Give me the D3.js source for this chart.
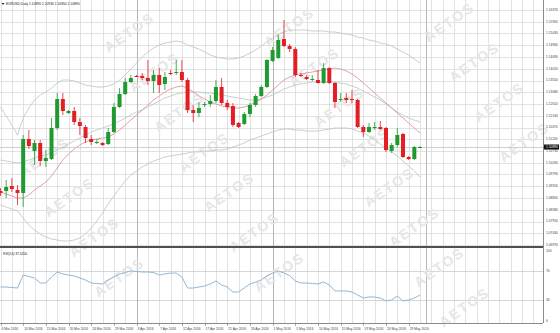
<!DOCTYPE html>
<html>
<head>
<meta charset="utf-8">
<script src="https://cdn.jsdelivr.net/npm/d3@7"></script>
<style>
  body { margin: 0; background: #fff; }
  svg { display: block; font-family: 'Liberation Sans', Arial, sans-serif; }
</style>
</head>
<body>
<div id="chart"></div>
<script>
// EURUSD daily bars, 6 Mar 2016 - 31 May 2016 (Sunday bars included)
const dateLabels = ['6 Mar 2016', '10 Mar 2016', '15 Mar 2016', '20 Mar 2016', '24 Mar 2016', '29 Mar 2016',
  '3 Apr 2016', '7 Apr 2016', '12 Apr 2016', '17 Apr 2016', '21 Apr 2016', '26 Apr 2016', '1 May 2016',
  '5 May 2016', '10 May 2016', '15 May 2016', '19 May 2016', '24 May 2016', '29 May 2016'];

const openP = [1.0913, 1.0913, 1.0933, 1.0917, 1.0905, 1.1121, 1.1073, 1.1105, 1.1033, 1.1041,
  1.1165, 1.1281, 1.1225, 1.1233, 1.1189, 1.1169, 1.1121, 1.1107, 1.1105, 1.1101,
  1.1149, 1.1249, 1.1301, 1.1349, 1.1373, 1.1373, 1.1365, 1.1353, 1.1377, 1.1341,
  1.1385, 1.1385, 1.1389, 1.1357, 1.1237, 1.1225, 1.1259, 1.1261, 1.1273, 1.1329,
  1.1265, 1.1253, 1.1185, 1.1181, 1.1221, 1.1257, 1.1293, 1.1329, 1.1433, 1.1445,
  1.1521, 1.1493, 1.1481, 1.1377, 1.1369, 1.1359, 1.1357, 1.1345, 1.1405, 1.1345,
  1.1277, 1.1285, 1.1281, 1.1277, 1.1169, 1.1149, 1.1165, 1.1169, 1.1165, 1.1073,
  1.1097, 1.1141, 1.1049, 1.1041, 1.1089];
const highP = [1.0925, 1.0957, 1.0965, 1.0937, 1.1137, 1.1157, 1.1117, 1.1117, 1.1077, 1.1205,
  1.1305, 1.1305, 1.1237, 1.1249, 1.1205, 1.1177, 1.1137, 1.1121, 1.1109, 1.1165,
  1.1265, 1.1325, 1.1365, 1.1377, 1.1377, 1.1385, 1.1437, 1.1397, 1.1405, 1.1389,
  1.1397, 1.1437, 1.1437, 1.1365, 1.1257, 1.1269, 1.1269, 1.1297, 1.1357, 1.1365,
  1.1277, 1.1265, 1.1189, 1.1229, 1.1265, 1.1301, 1.1337, 1.1441, 1.1489, 1.1537,
  1.1597, 1.1501, 1.1489, 1.1385, 1.1377, 1.1377, 1.1397, 1.1425, 1.1409, 1.1349,
  1.1305, 1.1305, 1.1317, 1.1281, 1.1177, 1.1185, 1.1189, 1.1193, 1.1169, 1.1105,
  1.1165, 1.1145, 1.1053, 1.1093, 1.1093];
const lowP = [1.0893, 1.0885, 1.0909, 1.0857, 1.0849, 1.1081, 1.1017, 1.1013, 1.1009, 1.1037,
  1.1157, 1.1217, 1.1221, 1.1177, 1.1137, 1.1105, 1.1097, 1.1101, 1.1093, 1.1097,
  1.1145, 1.1245, 1.1297, 1.1345, 1.1369, 1.1357, 1.1337, 1.1305, 1.1305, 1.1317,
  1.1377, 1.1377, 1.1349, 1.1225, 1.1189, 1.1209, 1.1249, 1.1249, 1.1265, 1.1257,
  1.1237, 1.1169, 1.1165, 1.1177, 1.1209, 1.1249, 1.1289, 1.1325, 1.1429, 1.1441,
  1.1489, 1.1469, 1.1369, 1.1369, 1.1357, 1.1353, 1.1343, 1.1341, 1.1341, 1.1245,
  1.1269, 1.1265, 1.1265, 1.1165, 1.1129, 1.1145, 1.1157, 1.1157, 1.1069, 1.1065,
  1.1089, 1.1045, 1.1037, 1.1037, 1.1085];
const closeP = [1.0905, 1.0929, 1.0921, 1.0905, 1.1121, 1.1093, 1.1105, 1.1033, 1.1045, 1.1165,
  1.1281, 1.1233, 1.1233, 1.1189, 1.1173, 1.1125, 1.1109, 1.1109, 1.1097, 1.1149,
  1.1249, 1.1301, 1.1349, 1.1365, 1.1371, 1.1365, 1.1353, 1.1377, 1.1337, 1.1369,
  1.1383, 1.1389, 1.1357, 1.1237, 1.1225, 1.1245, 1.1261, 1.1273, 1.1329, 1.1265,
  1.1249, 1.1177, 1.1169, 1.1221, 1.1257, 1.1293, 1.1329, 1.1437, 1.1477, 1.1517,
  1.1493, 1.1481, 1.1377, 1.1375, 1.1361, 1.1361, 1.1345, 1.1405, 1.1345, 1.1269,
  1.1281, 1.1277, 1.1277, 1.1169, 1.1149, 1.1169, 1.1169, 1.1161, 1.1077, 1.1097,
  1.1137, 1.1049, 1.1041, 1.1089, 1.1089];

// indicator lines
const bbUpper = [1.1249, 1.1213, 1.1177, 1.1137, 1.1205, 1.1245, 1.1277, 1.1297, 1.1309, 1.1325,
  1.1345, 1.1357, 1.1357, 1.1353, 1.1345, 1.1337, 1.1333, 1.1329, 1.1329, 1.1333,
  1.1341, 1.1357, 1.1377, 1.1401, 1.1425, 1.1449, 1.1469, 1.1485, 1.1497, 1.1505,
  1.1509, 1.1513, 1.1509, 1.1497, 1.1489, 1.1481, 1.1469, 1.1457, 1.1449, 1.1445,
  1.1441, 1.1441, 1.1445, 1.1453, 1.1465, 1.1477, 1.1493, 1.1509, 1.1525, 1.1537,
  1.1549, 1.1557, 1.1557, 1.1557, 1.1557, 1.1553, 1.1553, 1.1553, 1.1549, 1.1549,
  1.1545, 1.1541, 1.1537, 1.1529, 1.1525, 1.1517, 1.1513, 1.1505, 1.1501, 1.1493,
  1.1481, 1.1469, 1.1457, 1.1441, 1.1425];
const bbMiddle = [1.1037, 1.1033, 1.1029, 1.1025, 1.1029, 1.1037, 1.1045, 1.1053, 1.1057, 1.1065,
  1.1077, 1.1089, 1.1101, 1.1113, 1.1125, 1.1137, 1.1149, 1.1157, 1.1165, 1.1173,
  1.1181, 1.1193, 1.1205, 1.1217, 1.1229, 1.1237, 1.1249, 1.1261, 1.1273, 1.1285,
  1.1293, 1.1301, 1.1305, 1.1309, 1.1309, 1.1309, 1.1305, 1.1305, 1.1301, 1.1297,
  1.1293, 1.1289, 1.1285, 1.1281, 1.1277, 1.1277, 1.1281, 1.1289, 1.1297, 1.1309,
  1.1321, 1.1329, 1.1337, 1.1341, 1.1345, 1.1349, 1.1349, 1.1349, 1.1349, 1.1349,
  1.1345, 1.1341, 1.1333, 1.1325, 1.1313, 1.1301, 1.1289, 1.1277, 1.1261, 1.1245,
  1.1229, 1.1217, 1.1205, 1.1197, 1.1189];
const bbLower = [1.0857, 1.0849, 1.0841, 1.0833, 1.0805, 1.0777, 1.0757, 1.0741, 1.0729, 1.0721,
  1.0717, 1.0713, 1.0713, 1.0717, 1.0725, 1.0741, 1.0765, 1.0793, 1.0825, 1.0861,
  1.0893, 1.0925, 1.0953, 1.0977, 1.0993, 1.1009, 1.1021, 1.1033, 1.1041, 1.1049,
  1.1053, 1.1057, 1.1061, 1.1065, 1.1069, 1.1069, 1.1073, 1.1073, 1.1077, 1.1077,
  1.1081, 1.1089, 1.1097, 1.1105, 1.1117, 1.1125, 1.1133, 1.1141, 1.1149, 1.1157,
  1.1161, 1.1161, 1.1157, 1.1157, 1.1153, 1.1153, 1.1153, 1.1157, 1.1161, 1.1165,
  1.1165, 1.1165, 1.1161, 1.1153, 1.1145, 1.1133, 1.1117, 1.1101, 1.1085, 1.1069,
  1.1053, 1.1033, 1.1013, 1.0993, 1.0969];
const maLine = [1.0909, 1.0901, 1.0893, 1.0885, 1.0885, 1.0897, 1.0917, 1.0933, 1.0949, 1.0973,
  1.1005, 1.1037, 1.1061, 1.1081, 1.1097, 1.1109, 1.1117, 1.1121, 1.1125, 1.1129,
  1.1141, 1.1157, 1.1177, 1.1197, 1.1217, 1.1237, 1.1257, 1.1277, 1.1293, 1.1309,
  1.1321, 1.1329, 1.1333, 1.1325, 1.1309, 1.1293, 1.1281, 1.1269, 1.1261, 1.1253,
  1.1249, 1.1245, 1.1245, 1.1249, 1.1257, 1.1269, 1.1281, 1.1297, 1.1317, 1.1337,
  1.1357, 1.1369, 1.1377, 1.1381, 1.1385, 1.1389, 1.1393, 1.1397, 1.1401, 1.1405,
  1.1401, 1.1393, 1.1381, 1.1365, 1.1345, 1.1325, 1.1305, 1.1285, 1.1265, 1.1245,
  1.1225, 1.1205, 1.1185, 1.1165, 1.1145];

const rsiValues = [48.3, 48.3, 47.6, 46.9, 64.6, 62.6, 60.5, 53.7, 53.7, 61.9,
  68.7, 66.0, 64.6, 63.3, 60.5, 57.8, 53.7, 53.1, 52.4, 57.8,
  61.9, 66.0, 68.0, 70.1, 69.4, 68.7, 68.7, 68.0, 64.6, 66.0,
  67.3, 67.3, 61.9, 46.9, 46.9, 48.3, 49.7, 52.4, 56.5, 51.0,
  48.3, 41.5, 41.5, 46.9, 52.4, 55.1, 57.8, 63.3, 67.3, 70.1,
  67.3, 63.9, 56.5, 53.7, 53.7, 53.1, 52.4, 55.1, 51.0, 42.9,
  42.9, 42.9, 41.5, 37.4, 33.3, 34.7, 34.7, 33.3, 29.3, 30.6,
  36.1, 29.3, 30.6, 33.3, 37.42];

const priceTicks = [1.16370, 1.15900, 1.15430, 1.14960, 1.14490, 1.14020, 1.13550, 1.13080, 1.12610,
  1.12140, 1.11670, 1.11200, 1.10730, 1.10260, 1.09790, 1.09320, 1.08850, 1.08380, 1.07910,
  1.07440, 1.06970];
const rsiTicks = [100, 70, 30, 0];
const rsiLevels = [70, 30];
const monthStarts = [24, 48, 75]; // first bars of Apr, May, Jun

const W = 560, H = 333;
const axisX = 543;
const mainTop = 0, mainBottom = 246;
const rsiTop = 248, rsiBottom = 323;

const svg = d3.select('#chart')
  .append('svg')
  .attr('width', W)
  .attr('height', H);

svg.append('rect').attr('width', W).attr('height', H).attr('fill', '#fff');

const x = d3.scaleLinear().domain([0, openP.length - 1]).range([0.5, 420]);
const y = d3.scaleLinear()
  .domain([d3.min(priceTicks), d3.max(priceTicks)])
  .range([245, 10]);
const yRsi = d3.scaleLinear().domain([0, 100]).range([322.5, 249]);

const fmt5 = d3.format('.5f');

// grid: vertical every 2 bars, horizontal on each price label
const gridG = svg.append('g').attr('stroke', '#dadada').attr('stroke-width', 0.8);
const vBars = d3.range(0, 200, 2).filter(i => x(i) < axisX);
gridG.selectAll('line.v')
  .data(vBars)
  .join('line')
  .attr('x1', i => Math.round(x(i)) + 0.5)
  .attr('x2', i => Math.round(x(i)) + 0.5)
  .attr('y1', mainTop)
  .attr('y2', rsiBottom);
gridG.selectAll('line.h')
  .data(priceTicks)
  .join('line')
  .attr('x1', 0)
  .attr('x2', axisX)
  .attr('y1', d => Math.round(y(d)) + 0.5)
  .attr('y2', d => Math.round(y(d)) + 0.5);
gridG.selectAll('line.r')
  .data(rsiLevels)
  .join('line')
  .attr('x1', 0)
  .attr('x2', axisX)
  .attr('y1', d => Math.round(yRsi(d)) + 0.5)
  .attr('y2', d => Math.round(yRsi(d)) + 0.5)
  .attr('stroke', '#cccccc');

// month separators
svg.append('g')
  .selectAll('line')
  .data(monthStarts)
  .join('line')
  .attr('x1', i => Math.round(x(i)) + 0.5)
  .attr('x2', i => Math.round(x(i)) + 0.5)
  .attr('y1', mainTop)
  .attr('y2', rsiBottom)
  .attr('stroke', '#b0b0b0')
  .attr('stroke-width', 0.9);

// watermark lattice (only whole words kept)
const wmG = svg.append('g');
const wmPos = [];
for (let a = -10; a <= 10; a++) {
  for (let b = -3; b <= 5; b++) {
    const cx = 20 + a * 25 + b * 160;
    const cy = 118 + a * 40 - b * 5;
    if (cx > 26 && cx < W - 26 && cy > 20 && cy < H - 20) wmPos.push([cx, cy]);
  }
}
wmG.selectAll('text')
  .data(wmPos)
  .join('text')
  .attr('transform', d => `translate(${d[0]},${d[1]}) rotate(-35)`)
  .attr('text-anchor', 'middle')
  .attr('dominant-baseline', 'middle')
  .style('font-size', '14px')
  .style('font-weight', 'bold')
  .style('letter-spacing', '2px')
  .style('fill', '#e6e6e6')
  .text('AETOS');

// indicator lines
const line = d3.line().x((d, i) => x(i)).y(d => y(d));
[[bbUpper, '#b5c8bd'], [bbMiddle, '#b5c8bd'], [bbLower, '#b5c8bd'], [maLine, '#d98c90']].forEach(([arr, col]) => {
  svg.append('path')
    .datum(arr)
    .attr('d', line)
    .attr('fill', 'none')
    .attr('stroke', col)
    .attr('stroke-width', 0.8);
});

// bid line
const lastClose = closeP[closeP.length - 1];
svg.append('line')
  .attr('x1', 0).attr('x2', axisX)
  .attr('y1', Math.round(y(lastClose)) + 0.5)
  .attr('y2', Math.round(y(lastClose)) + 0.5)
  .attr('stroke', '#c4c4c4')
  .attr('stroke-width', 0.8);

// candles
const bars = d3.range(openP.length);
const upCol = '#1f9a30', dnCol = '#e31e24';
const candleG = svg.append('g');
candleG.selectAll('line')
  .data(bars)
  .join('line')
  .attr('x1', i => x(i))
  .attr('x2', i => x(i))
  .attr('y1', i => y(highP[i]))
  .attr('y2', i => y(lowP[i]))
  .attr('stroke', i => closeP[i] >= openP[i] ? upCol : dnCol)
  .attr('stroke-width', 0.8);
candleG.selectAll('rect')
  .data(bars)
  .join('rect')
  .attr('x', i => x(i) - 2)
  .attr('width', 4)
  .attr('y', i => y(Math.max(openP[i], closeP[i])))
  .attr('height', i => Math.max(1, Math.abs(y(openP[i]) - y(closeP[i]))))
  .attr('fill', i => closeP[i] >= openP[i] ? upCol : dnCol);

// RSI line
svg.append('path')
  .datum(rsiValues)
  .attr('d', d3.line().x((d, i) => x(i)).y(d => yRsi(d)))
  .attr('fill', 'none')
  .attr('stroke', '#94b6cf')
  .attr('stroke-width', 1);

// frame lines
svg.append('line').attr('x1', axisX + 0.5).attr('x2', axisX + 0.5).attr('y1', 0).attr('y2', rsiBottom)
  .attr('stroke', '#8a8a8a').attr('stroke-width', 1);
svg.append('rect').attr('x', 0).attr('y', mainBottom).attr('width', axisX).attr('height', 2).attr('fill', '#505050');
svg.append('line').attr('x1', 0).attr('x2', axisX).attr('y1', rsiBottom + 0.5).attr('y2', rsiBottom + 0.5)
  .attr('stroke', '#8a8a8a');

// price axis labels
const tickFont = '3.3px';
svg.append('g')
  .selectAll('text')
  .data(priceTicks)
  .join('text')
  .attr('x', axisX + 3)
  .attr('y', d => y(d))
  .attr('dominant-baseline', 'middle')
  .style('font-size', tickFont)
  .style('fill', '#444')
  .text(d => fmt5(d));

// current price box
svg.append('rect')
  .attr('x', axisX + 1).attr('y', y(lastClose) - 2.5)
  .attr('width', 15).attr('height', 5)
  .attr('fill', '#111');
svg.append('text')
  .attr('x', axisX + 3).attr('y', y(lastClose))
  .attr('dominant-baseline', 'middle')
  .style('font-size', tickFont)
  .style('fill', '#fff')
  .text(fmt5(lastClose));

// RSI axis labels
svg.append('g')
  .selectAll('text')
  .data(rsiTicks)
  .join('text')
  .attr('x', axisX + 3)
  .attr('y', d => Math.min(321, Math.max(251, yRsi(d))))
  .attr('dominant-baseline', 'middle')
  .style('font-size', tickFont)
  .style('fill', '#444')
  .text(d => d);

// date labels every 4 bars
const dateG = svg.append('g');
dateG.selectAll('text')
  .data(dateLabels)
  .join('text')
  .attr('x', (d, k) => x(k * 4) + 1)
  .attr('y', 329)
  .attr('dominant-baseline', 'middle')
  .style('font-size', tickFont)
  .style('fill', '#444')
  .text(d => d);
dateG.selectAll('line')
  .data(dateLabels)
  .join('line')
  .attr('x1', (d, k) => Math.round(x(k * 4)) + 0.5)
  .attr('x2', (d, k) => Math.round(x(k * 4)) + 0.5)
  .attr('y1', rsiBottom)
  .attr('y2', rsiBottom + 3)
  .attr('stroke', '#777')
  .attr('stroke-width', 0.6);

// panel titles
const lastBar = openP.length - 1;
svg.append('path')
  .attr('d', 'M1.5,3 L4.5,3 L3,5 Z')
  .attr('fill', '#333');
svg.append('text')
  .attr('x', 6).attr('y', 4.2)
  .attr('dominant-baseline', 'middle')
  .style('font-size', tickFont)
  .style('fill', '#222')
  .text(`EURUSD,Daily  ${fmt5(openP[lastBar])} ${fmt5(highP[lastBar])} ${fmt5(lowP[lastBar])} ${fmt5(closeP[lastBar])}`);
svg.append('text')
  .attr('x', 3).attr('y', 254)
  .attr('dominant-baseline', 'middle')
  .style('font-size', tickFont)
  .style('fill', '#222')
  .text(`RSI(14) ${d3.format('.4f')(rsiValues[lastBar])}`);
</script>
</body>
</html>
